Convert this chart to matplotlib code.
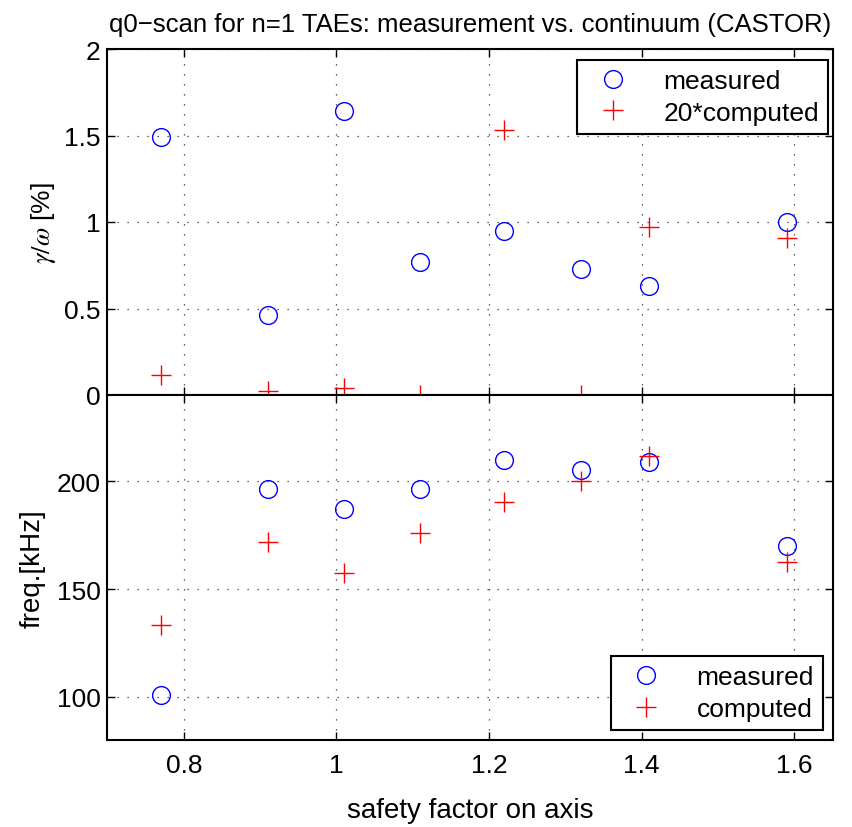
import matplotlib
matplotlib.use("Agg")
import matplotlib.pyplot as plt

plt.rcParams['font.family'] = ['Liberation Sans', 'DejaVu Sans']
plt.rcParams['mathtext.fontset'] = 'stix'

# safety factor on axis (q0)
q0 = [0.77, 0.91, 1.01, 1.11, 1.22, 1.32, 1.41, 1.59]

# growth rate gamma/omega [%]
gamma_measured = [1.49, 0.46, 1.64, 0.77, 0.95, 0.73, 0.63, 1.00]
gamma_computed20 = [0.116, 0.025, 0.040, 0.002, 1.534, 0.0, 0.973, 0.906]

# frequency [kHz]
freq_measured = [100.8, 196.6, 187.2, 196.6, 209.9, 205.3, 208.8, 169.8]
freq_computed = [133.2, 171.8, 157.4, 175.9, 190.3, 200.0, 211.7, 162.7]

xticks = [0.8, 1.0, 1.2, 1.4, 1.6]
xticklabels = ['0.8', '1', '1.2', '1.4', '1.6']
gticks = [0, 0.5, 1.0, 1.5, 2.0]
gticklabels = ['0', '0.5', '1', '1.5', '2']
fticks = [100, 150, 200]
fticklabels = ['100', '150', '200']

fig = plt.figure(figsize=(8.52, 8.28), dpi=100)
W, H = 852.0, 828.0
left = 107.5 / W
width = (832.5 - 107.5) / W
ax1 = fig.add_axes([left, 1 - 396 / H, width, (396 - 50) / H])
ax2 = fig.add_axes([left, 1 - 741 / H, width, (741 - 396) / H])

ms = 12.8
mew = 1.0
fs = 19

for ax in (ax1, ax2):
    ax.set_xlim(0.7, 1.65)
    ax.set_xticks(xticks)
    ax.grid(True, color='0.2', linestyle=(0, (1, 7)), linewidth=0.9)
    ax.tick_params(direction='in', top=True, right=True, length=6, width=1.0,
                   labelsize=fs)
    ax.tick_params(axis='x', pad=9.5)
    ax.tick_params(axis='y', pad=5)
    for s in ax.spines.values():
        s.set_linewidth(1.5)

legkw = dict(fontsize=fs, frameon=True, fancybox=False, edgecolor='black',
             borderaxespad=0, handletextpad=0.9, borderpad=0.35,
             labelspacing=0.28, handlelength=2.0, framealpha=1)

ax1.plot(q0, gamma_measured, linestyle='none', marker='o', markersize=ms,
         markerfacecolor='none', markeredgecolor='blue', markeredgewidth=mew,
         label='measured')
ax1.plot(q0, gamma_computed20, linestyle='none', marker='+', markersize=ms + 1,
         color='red', markeredgewidth=mew, label='20*computed')
ax1.set_ylim(0, 2)
ax1.set_yticks(gticks)
ax1.set_yticklabels(gticklabels)
ax1.set_xticklabels([])
ax1.set_ylabel(r'$\gamma/\omega$ [%]', fontsize=19, labelpad=4)
ax1.set_title('q0\u2212scan for n=1 TAEs: measurement vs. continuum (CASTOR)',
              fontsize=18.5, pad=13)
leg1 = ax1.legend(loc='upper right', bbox_to_anchor=(828 / W, 1 - 61 / H),
                  bbox_transform=fig.transFigure, **legkw)
leg1.get_frame().set_linewidth(1.5)

ax2.plot(q0, freq_measured, linestyle='none', marker='o', markersize=ms,
         markerfacecolor='none', markeredgecolor='blue', markeredgewidth=mew,
         label='measured')
ax2.plot(q0, freq_computed, linestyle='none', marker='+', markersize=ms + 1,
         color='red', markeredgewidth=mew, label='computed')
ax2.set_ylim(80, 240)
ax2.set_yticks(fticks)
ax2.set_yticklabels(fticklabels)
ax2.set_xticklabels(xticklabels)
ax2.set_ylabel('freq.[kHz]', fontsize=20, labelpad=8)
ax2.set_xlabel('safety factor on axis', fontsize=20, labelpad=14)
leg2 = ax2.legend(loc='lower right', bbox_to_anchor=(823 / W, 1 - 731 / H),
                  bbox_transform=fig.transFigure, **legkw)
leg2.get_frame().set_linewidth(1.5)

fig.savefig('out.png', dpi=100)
